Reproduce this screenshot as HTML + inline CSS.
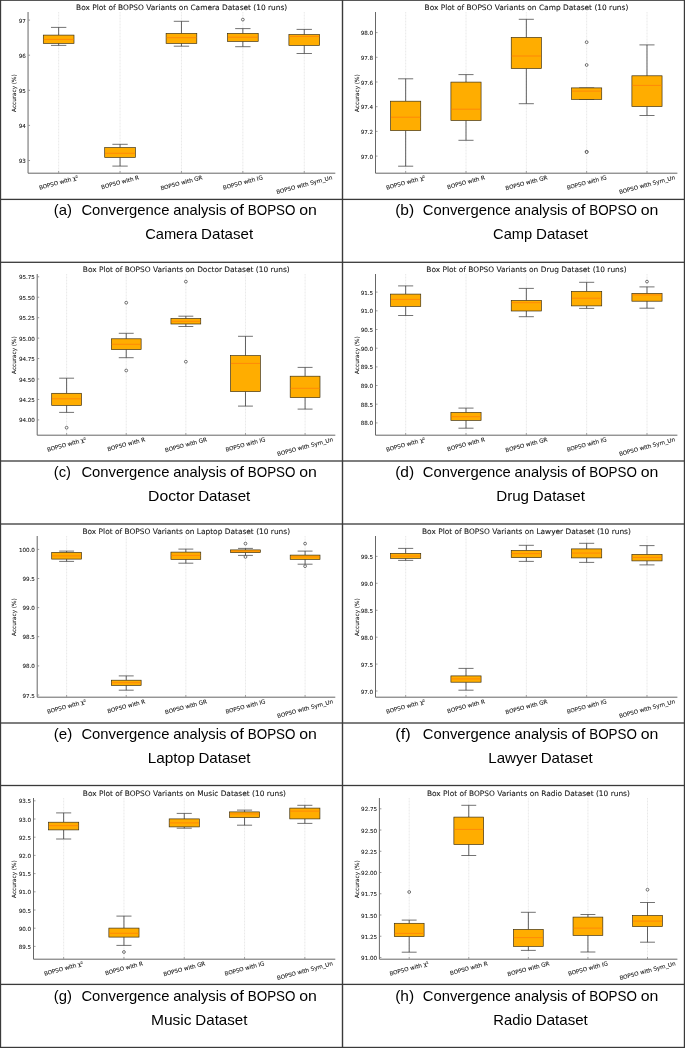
<!DOCTYPE html>
<html><head><meta charset="utf-8"><title>Box Plots of BOPSO Variants</title>
<style>
html,body{margin:0;padding:0;background:#fff}
body{width:685px;height:1048px;overflow:hidden}
svg{display:block}
.d{font-family:"DejaVu Sans","Liberation Sans",sans-serif;fill:#151515;stroke:#151515;stroke-width:.08px}
.c{font-family:"Liberation Sans",sans-serif;fill:#000}
</style></head><body>
<svg width="685" height="1048" viewBox="0 0 685 1048">
<rect width="685" height="1048" fill="#fff"/>
<g>
<line x1="58.65" y1="12" x2="58.65" y2="173.2" stroke="#d2d2d2" stroke-width="0.5" stroke-dasharray="1 0.5"/>
<line x1="120.05" y1="12" x2="120.05" y2="173.2" stroke="#d2d2d2" stroke-width="0.5" stroke-dasharray="1 0.5"/>
<line x1="181.45" y1="12" x2="181.45" y2="173.2" stroke="#d2d2d2" stroke-width="0.5" stroke-dasharray="1 0.5"/>
<line x1="242.85" y1="12" x2="242.85" y2="173.2" stroke="#d2d2d2" stroke-width="0.5" stroke-dasharray="1 0.5"/>
<line x1="304.25" y1="12" x2="304.25" y2="173.2" stroke="#d2d2d2" stroke-width="0.5" stroke-dasharray="1 0.5"/>
<path d="M58.65 35.1V27.4M58.65 43.4V45.4" stroke="#2e2e2e" stroke-width="0.75" fill="none"/>
<path d="M50.98 27.4H66.33M50.98 45.4H66.33" stroke="#444" stroke-width="0.75" fill="none"/>
<rect x="43.3" y="35.1" width="30.7" height="8.3" fill="#ffad00" stroke="#33290f" stroke-width="0.65"/>
<line x1="43.6" y1="39.4" x2="73.7" y2="39.4" stroke="#ff7a0a" stroke-width="0.7"/>
<path d="M120.05 147.6V144.3M120.05 157.4V166.1" stroke="#2e2e2e" stroke-width="0.75" fill="none"/>
<path d="M112.38 144.3H127.72M112.38 166.1H127.72" stroke="#444" stroke-width="0.75" fill="none"/>
<rect x="104.7" y="147.6" width="30.7" height="9.8" fill="#ffad00" stroke="#33290f" stroke-width="0.65"/>
<line x1="105" y1="153.3" x2="135.1" y2="153.3" stroke="#ff7a0a" stroke-width="0.7"/>
<path d="M181.45 33.4V21.3M181.45 43.4V46.2" stroke="#2e2e2e" stroke-width="0.75" fill="none"/>
<path d="M173.77 21.3H189.12M173.77 46.2H189.12" stroke="#444" stroke-width="0.75" fill="none"/>
<rect x="166.1" y="33.4" width="30.7" height="10" fill="#ffad00" stroke="#33290f" stroke-width="0.65"/>
<line x1="166.4" y1="37.7" x2="196.5" y2="37.7" stroke="#ff7a0a" stroke-width="0.7"/>
<path d="M242.85 33.4V28.6M242.85 41.4V46.7" stroke="#2e2e2e" stroke-width="0.75" fill="none"/>
<path d="M235.17 28.6H250.53M235.17 46.7H250.53" stroke="#444" stroke-width="0.75" fill="none"/>
<rect x="227.5" y="33.4" width="30.7" height="8" fill="#ffad00" stroke="#33290f" stroke-width="0.65"/>
<line x1="227.8" y1="37.2" x2="257.9" y2="37.2" stroke="#ff7a0a" stroke-width="0.7"/>
<circle cx="242.85" cy="19.6" r="1.4" fill="#fff" stroke="#2a2a2a" stroke-width="0.65"/>
<path d="M304.25 34.6V29.4M304.25 45.4V53.5" stroke="#2e2e2e" stroke-width="0.75" fill="none"/>
<path d="M296.57 29.4H311.93M296.57 53.5H311.93" stroke="#444" stroke-width="0.75" fill="none"/>
<rect x="288.9" y="34.6" width="30.7" height="10.8" fill="#ffad00" stroke="#33290f" stroke-width="0.65"/>
<line x1="289.2" y1="36.4" x2="319.3" y2="36.4" stroke="#ff7a0a" stroke-width="0.7"/>
<path d="M28.05 12V173.2H335.3" stroke="#666" stroke-width="1.0" fill="none"/>
<line x1="28.65" y1="20.1" x2="30.05" y2="20.1" stroke="#333" stroke-width="0.5"/>
<text x="25.75" y="22.62" font-size="5.6" text-anchor="end" class="d">97</text>
<line x1="28.65" y1="55.2" x2="30.05" y2="55.2" stroke="#333" stroke-width="0.5"/>
<text x="25.75" y="57.72" font-size="5.6" text-anchor="end" class="d">96</text>
<line x1="28.65" y1="90.3" x2="30.05" y2="90.3" stroke="#333" stroke-width="0.5"/>
<text x="25.75" y="92.82" font-size="5.6" text-anchor="end" class="d">95</text>
<line x1="28.65" y1="125.4" x2="30.05" y2="125.4" stroke="#333" stroke-width="0.5"/>
<text x="25.75" y="127.92" font-size="5.6" text-anchor="end" class="d">94</text>
<line x1="28.65" y1="160.5" x2="30.05" y2="160.5" stroke="#333" stroke-width="0.5"/>
<text x="25.75" y="163.02" font-size="5.6" text-anchor="end" class="d">93</text>
<line x1="58.65" y1="172.6" x2="58.65" y2="171.2" stroke="#333" stroke-width="0.5"/>
<line x1="120.05" y1="172.6" x2="120.05" y2="171.2" stroke="#333" stroke-width="0.5"/>
<line x1="181.45" y1="172.6" x2="181.45" y2="171.2" stroke="#333" stroke-width="0.5"/>
<line x1="242.85" y1="172.6" x2="242.85" y2="171.2" stroke="#333" stroke-width="0.5"/>
<line x1="304.25" y1="172.6" x2="304.25" y2="171.2" stroke="#333" stroke-width="0.5"/>
<text x="58.65" y="184.48" font-size="5.6" text-anchor="middle" class="d" transform="rotate(-15 58.65 182.47)">BOPSO with χ²</text>
<text x="120.05" y="184.28" font-size="5.6" text-anchor="middle" class="d" transform="rotate(-15 120.05 182.26)">BOPSO with R</text>
<text x="181.45" y="184.84" font-size="5.6" text-anchor="middle" class="d" transform="rotate(-15 181.45 182.82)">BOPSO with GR</text>
<text x="242.85" y="184.55" font-size="5.6" text-anchor="middle" class="d" transform="rotate(-15 242.85 182.53)">BOPSO with IG</text>
<text x="304.25" y="186.72" font-size="5.6" text-anchor="middle" class="d" transform="rotate(-15 304.25 184.7)">BOPSO with Sym_Un</text>
<text x="14.3" y="95.12" font-size="5.699999999999999" text-anchor="middle" class="d" transform="rotate(-90 14.3 93.1)">Accuracy (%)</text>
<text x="181.68" y="9.6" font-size="7.43" text-anchor="middle" class="d" fill="#222">Box Plot of BOPSO Variants on Camera Dataset (10 runs)</text>
<text x="53.8" y="215.4" font-size="15.0" class="c" textLength="18.2" lengthAdjust="spacingAndGlyphs">(a)</text>
<text y="215.4" font-size="15.0" class="c"><tspan x="81.4" textLength="87.99" lengthAdjust="spacingAndGlyphs">Convergence</tspan> <tspan x="173.18" textLength="53.1" lengthAdjust="spacingAndGlyphs">analysis</tspan> <tspan x="230.07" textLength="13.95" lengthAdjust="spacingAndGlyphs">of</tspan> <tspan x="247.81" textLength="47.67" lengthAdjust="spacingAndGlyphs">BOPSO</tspan> <tspan x="299.27" textLength="17.65" lengthAdjust="spacingAndGlyphs">on</tspan></text>
<text y="238.9" font-size="15.0" class="c"><tspan x="145.13" textLength="52.22" lengthAdjust="spacingAndGlyphs">Camera</tspan> <tspan x="201.14" textLength="52.05" lengthAdjust="spacingAndGlyphs">Dataset</tspan></text>
</g>
<g>
<line x1="405.67" y1="12" x2="405.67" y2="173.2" stroke="#d2d2d2" stroke-width="0.5" stroke-dasharray="1 0.5"/>
<line x1="466" y1="12" x2="466" y2="173.2" stroke="#d2d2d2" stroke-width="0.5" stroke-dasharray="1 0.5"/>
<line x1="526.33" y1="12" x2="526.33" y2="173.2" stroke="#d2d2d2" stroke-width="0.5" stroke-dasharray="1 0.5"/>
<line x1="586.65" y1="12" x2="586.65" y2="173.2" stroke="#d2d2d2" stroke-width="0.5" stroke-dasharray="1 0.5"/>
<line x1="646.99" y1="12" x2="646.99" y2="173.2" stroke="#d2d2d2" stroke-width="0.5" stroke-dasharray="1 0.5"/>
<path d="M405.67 101.2V78.8M405.67 130.6V166.2" stroke="#2e2e2e" stroke-width="0.75" fill="none"/>
<path d="M398.12 78.8H413.21M398.12 166.2H413.21" stroke="#444" stroke-width="0.75" fill="none"/>
<rect x="390.58" y="101.2" width="30.16" height="29.4" fill="#ffad00" stroke="#33290f" stroke-width="0.65"/>
<line x1="390.88" y1="117.2" x2="420.45" y2="117.2" stroke="#ff7a0a" stroke-width="0.7"/>
<path d="M466 82.1V74.6M466 120.5V140.3" stroke="#2e2e2e" stroke-width="0.75" fill="none"/>
<path d="M458.45 74.6H473.54M458.45 140.3H473.54" stroke="#444" stroke-width="0.75" fill="none"/>
<rect x="450.91" y="82.1" width="30.16" height="38.4" fill="#ffad00" stroke="#33290f" stroke-width="0.65"/>
<line x1="451.21" y1="109.2" x2="480.78" y2="109.2" stroke="#ff7a0a" stroke-width="0.7"/>
<path d="M526.33 37.4V19.3M526.33 68.5V103.7" stroke="#2e2e2e" stroke-width="0.75" fill="none"/>
<path d="M518.78 19.3H533.87M518.78 103.7H533.87" stroke="#444" stroke-width="0.75" fill="none"/>
<rect x="511.24" y="37.4" width="30.16" height="31.1" fill="#ffad00" stroke="#33290f" stroke-width="0.65"/>
<line x1="511.54" y1="56" x2="541.11" y2="56" stroke="#ff7a0a" stroke-width="0.7"/>
<path d="M586.65 87.9V87.9M586.65 99.4V99.4" stroke="#2e2e2e" stroke-width="0.75" fill="none"/>
<path d="M579.11 87.9H594.2M579.11 99.4H594.2" stroke="#444" stroke-width="0.75" fill="none"/>
<rect x="571.57" y="87.9" width="30.16" height="11.5" fill="#ffad00" stroke="#33290f" stroke-width="0.65"/>
<line x1="571.87" y1="91.1" x2="601.44" y2="91.1" stroke="#ff7a0a" stroke-width="0.7"/>
<circle cx="586.65" cy="42.2" r="1.4" fill="#fff" stroke="#2a2a2a" stroke-width="0.65"/>
<circle cx="586.65" cy="65" r="1.4" fill="#fff" stroke="#2a2a2a" stroke-width="0.65"/>
<circle cx="586.65" cy="151.7" r="1.4" fill="#fff" stroke="#2a2a2a" stroke-width="0.65"/>
<circle cx="586.65" cy="152.1" r="1.4" fill="#fff" stroke="#2a2a2a" stroke-width="0.65"/>
<path d="M646.99 75.8V44.9M646.99 106.5V115.5" stroke="#2e2e2e" stroke-width="0.75" fill="none"/>
<path d="M639.44 44.9H654.53M639.44 115.5H654.53" stroke="#444" stroke-width="0.75" fill="none"/>
<rect x="631.9" y="75.8" width="30.16" height="30.7" fill="#ffad00" stroke="#33290f" stroke-width="0.65"/>
<line x1="632.2" y1="85.4" x2="661.77" y2="85.4" stroke="#ff7a0a" stroke-width="0.7"/>
<path d="M375.5 12V173.2H677.4" stroke="#666" stroke-width="1.0" fill="none"/>
<line x1="376.1" y1="32.6" x2="377.5" y2="32.6" stroke="#333" stroke-width="0.5"/>
<text x="373.2" y="35.12" font-size="5.6" text-anchor="end" class="d">98.0</text>
<line x1="376.1" y1="57.3" x2="377.5" y2="57.3" stroke="#333" stroke-width="0.5"/>
<text x="373.2" y="59.82" font-size="5.6" text-anchor="end" class="d">97.8</text>
<line x1="376.1" y1="82" x2="377.5" y2="82" stroke="#333" stroke-width="0.5"/>
<text x="373.2" y="84.52" font-size="5.6" text-anchor="end" class="d">97.6</text>
<line x1="376.1" y1="106.7" x2="377.5" y2="106.7" stroke="#333" stroke-width="0.5"/>
<text x="373.2" y="109.22" font-size="5.6" text-anchor="end" class="d">97.4</text>
<line x1="376.1" y1="131.4" x2="377.5" y2="131.4" stroke="#333" stroke-width="0.5"/>
<text x="373.2" y="133.92" font-size="5.6" text-anchor="end" class="d">97.2</text>
<line x1="376.1" y1="156.1" x2="377.5" y2="156.1" stroke="#333" stroke-width="0.5"/>
<text x="373.2" y="158.62" font-size="5.6" text-anchor="end" class="d">97.0</text>
<line x1="405.67" y1="172.6" x2="405.67" y2="171.2" stroke="#333" stroke-width="0.5"/>
<line x1="466" y1="172.6" x2="466" y2="171.2" stroke="#333" stroke-width="0.5"/>
<line x1="526.33" y1="172.6" x2="526.33" y2="171.2" stroke="#333" stroke-width="0.5"/>
<line x1="586.65" y1="172.6" x2="586.65" y2="171.2" stroke="#333" stroke-width="0.5"/>
<line x1="646.99" y1="172.6" x2="646.99" y2="171.2" stroke="#333" stroke-width="0.5"/>
<text x="405.67" y="184.48" font-size="5.6" text-anchor="middle" class="d" transform="rotate(-15 405.67 182.47)">BOPSO with χ²</text>
<text x="466" y="184.28" font-size="5.6" text-anchor="middle" class="d" transform="rotate(-15 466 182.26)">BOPSO with R</text>
<text x="526.33" y="184.84" font-size="5.6" text-anchor="middle" class="d" transform="rotate(-15 526.33 182.82)">BOPSO with GR</text>
<text x="586.65" y="184.55" font-size="5.6" text-anchor="middle" class="d" transform="rotate(-15 586.65 182.53)">BOPSO with IG</text>
<text x="646.99" y="186.72" font-size="5.6" text-anchor="middle" class="d" transform="rotate(-15 646.99 184.7)">BOPSO with Sym_Un</text>
<text x="357.3" y="95.12" font-size="5.699999999999999" text-anchor="middle" class="d" transform="rotate(-90 357.3 93.1)">Accuracy (%)</text>
<text x="526.45" y="9.6" font-size="7.43" text-anchor="middle" class="d" fill="#222">Box Plot of BOPSO Variants on Camp Dataset (10 runs)</text>
<text x="395.2" y="215.4" font-size="15.0" class="c" textLength="18.97" lengthAdjust="spacingAndGlyphs">(b)</text>
<text y="215.4" font-size="15.0" class="c"><tspan x="422.8" textLength="87.99" lengthAdjust="spacingAndGlyphs">Convergence</tspan> <tspan x="514.58" textLength="53.1" lengthAdjust="spacingAndGlyphs">analysis</tspan> <tspan x="571.47" textLength="13.95" lengthAdjust="spacingAndGlyphs">of</tspan> <tspan x="589.21" textLength="47.67" lengthAdjust="spacingAndGlyphs">BOPSO</tspan> <tspan x="640.67" textLength="17.65" lengthAdjust="spacingAndGlyphs">on</tspan></text>
<text y="238.9" font-size="15.0" class="c"><tspan x="493.06" textLength="39.16" lengthAdjust="spacingAndGlyphs">Camp</tspan> <tspan x="536.01" textLength="52.05" lengthAdjust="spacingAndGlyphs">Dataset</tspan></text>
</g>
<g>
<line x1="66.61" y1="274" x2="66.61" y2="435.2" stroke="#d2d2d2" stroke-width="0.5" stroke-dasharray="1 0.5"/>
<line x1="126.23" y1="274" x2="126.23" y2="435.2" stroke="#d2d2d2" stroke-width="0.5" stroke-dasharray="1 0.5"/>
<line x1="185.85" y1="274" x2="185.85" y2="435.2" stroke="#d2d2d2" stroke-width="0.5" stroke-dasharray="1 0.5"/>
<line x1="245.47" y1="274" x2="245.47" y2="435.2" stroke="#d2d2d2" stroke-width="0.5" stroke-dasharray="1 0.5"/>
<line x1="305.09" y1="274" x2="305.09" y2="435.2" stroke="#d2d2d2" stroke-width="0.5" stroke-dasharray="1 0.5"/>
<path d="M66.61 393.3V378.2M66.61 405.4V412.4" stroke="#2e2e2e" stroke-width="0.75" fill="none"/>
<path d="M59.16 378.2H74.06M59.16 412.4H74.06" stroke="#444" stroke-width="0.75" fill="none"/>
<rect x="51.7" y="393.3" width="29.81" height="12.1" fill="#ffad00" stroke="#33290f" stroke-width="0.65"/>
<line x1="52" y1="398.8" x2="81.21" y2="398.8" stroke="#ff7a0a" stroke-width="0.7"/>
<circle cx="66.61" cy="427.7" r="1.4" fill="#fff" stroke="#2a2a2a" stroke-width="0.65"/>
<path d="M126.23 338.8V333.3M126.23 349.6V357.7" stroke="#2e2e2e" stroke-width="0.75" fill="none"/>
<path d="M118.78 333.3H133.68M118.78 357.7H133.68" stroke="#444" stroke-width="0.75" fill="none"/>
<rect x="111.32" y="338.8" width="29.81" height="10.8" fill="#ffad00" stroke="#33290f" stroke-width="0.65"/>
<line x1="111.62" y1="344.3" x2="140.83" y2="344.3" stroke="#ff7a0a" stroke-width="0.7"/>
<circle cx="126.23" cy="302.7" r="1.4" fill="#fff" stroke="#2a2a2a" stroke-width="0.65"/>
<circle cx="126.23" cy="370.5" r="1.4" fill="#fff" stroke="#2a2a2a" stroke-width="0.65"/>
<path d="M185.85 318.5V316.2M185.85 324V326.5" stroke="#2e2e2e" stroke-width="0.75" fill="none"/>
<path d="M178.4 316.2H193.3M178.4 326.5H193.3" stroke="#444" stroke-width="0.75" fill="none"/>
<rect x="170.94" y="318.5" width="29.81" height="5.5" fill="#ffad00" stroke="#33290f" stroke-width="0.65"/>
<line x1="171.24" y1="321.3" x2="200.45" y2="321.3" stroke="#ff7a0a" stroke-width="0.7"/>
<circle cx="185.85" cy="281.6" r="1.4" fill="#fff" stroke="#2a2a2a" stroke-width="0.65"/>
<circle cx="185.85" cy="361.7" r="1.4" fill="#fff" stroke="#2a2a2a" stroke-width="0.65"/>
<path d="M245.47 355.6V336.3M245.47 391.6V406.1" stroke="#2e2e2e" stroke-width="0.75" fill="none"/>
<path d="M238.02 336.3H252.92M238.02 406.1H252.92" stroke="#444" stroke-width="0.75" fill="none"/>
<rect x="230.56" y="355.6" width="29.81" height="36" fill="#ffad00" stroke="#33290f" stroke-width="0.65"/>
<line x1="230.86" y1="363.4" x2="260.07" y2="363.4" stroke="#ff7a0a" stroke-width="0.7"/>
<path d="M305.09 376.2V367.4M305.09 397.6V409.1" stroke="#2e2e2e" stroke-width="0.75" fill="none"/>
<path d="M297.64 367.4H312.54M297.64 409.1H312.54" stroke="#444" stroke-width="0.75" fill="none"/>
<rect x="290.19" y="376.2" width="29.81" height="21.4" fill="#ffad00" stroke="#33290f" stroke-width="0.65"/>
<line x1="290.49" y1="388.3" x2="319.69" y2="388.3" stroke="#ff7a0a" stroke-width="0.7"/>
<path d="M37.2 274V435.2H335.3" stroke="#666" stroke-width="1.0" fill="none"/>
<line x1="37.8" y1="276.8" x2="39.2" y2="276.8" stroke="#333" stroke-width="0.5"/>
<text x="34.9" y="279.32" font-size="5.6" text-anchor="end" class="d">95.75</text>
<line x1="37.8" y1="297.24" x2="39.2" y2="297.24" stroke="#333" stroke-width="0.5"/>
<text x="34.9" y="299.76" font-size="5.6" text-anchor="end" class="d">95.50</text>
<line x1="37.8" y1="317.68" x2="39.2" y2="317.68" stroke="#333" stroke-width="0.5"/>
<text x="34.9" y="320.2" font-size="5.6" text-anchor="end" class="d">95.25</text>
<line x1="37.8" y1="338.12" x2="39.2" y2="338.12" stroke="#333" stroke-width="0.5"/>
<text x="34.9" y="340.64" font-size="5.6" text-anchor="end" class="d">95.00</text>
<line x1="37.8" y1="358.56" x2="39.2" y2="358.56" stroke="#333" stroke-width="0.5"/>
<text x="34.9" y="361.08" font-size="5.6" text-anchor="end" class="d">94.75</text>
<line x1="37.8" y1="379" x2="39.2" y2="379" stroke="#333" stroke-width="0.5"/>
<text x="34.9" y="381.52" font-size="5.6" text-anchor="end" class="d">94.50</text>
<line x1="37.8" y1="399.44" x2="39.2" y2="399.44" stroke="#333" stroke-width="0.5"/>
<text x="34.9" y="401.96" font-size="5.6" text-anchor="end" class="d">94.25</text>
<line x1="37.8" y1="419.88" x2="39.2" y2="419.88" stroke="#333" stroke-width="0.5"/>
<text x="34.9" y="422.4" font-size="5.6" text-anchor="end" class="d">94.00</text>
<line x1="66.61" y1="434.6" x2="66.61" y2="433.2" stroke="#333" stroke-width="0.5"/>
<line x1="126.23" y1="434.6" x2="126.23" y2="433.2" stroke="#333" stroke-width="0.5"/>
<line x1="185.85" y1="434.6" x2="185.85" y2="433.2" stroke="#333" stroke-width="0.5"/>
<line x1="245.47" y1="434.6" x2="245.47" y2="433.2" stroke="#333" stroke-width="0.5"/>
<line x1="305.09" y1="434.6" x2="305.09" y2="433.2" stroke="#333" stroke-width="0.5"/>
<text x="66.61" y="446.48" font-size="5.6" text-anchor="middle" class="d" transform="rotate(-15 66.61 444.47)">BOPSO with χ²</text>
<text x="126.23" y="446.28" font-size="5.6" text-anchor="middle" class="d" transform="rotate(-15 126.23 444.26)">BOPSO with R</text>
<text x="185.85" y="446.84" font-size="5.6" text-anchor="middle" class="d" transform="rotate(-15 185.85 444.82)">BOPSO with GR</text>
<text x="245.47" y="446.55" font-size="5.6" text-anchor="middle" class="d" transform="rotate(-15 245.47 444.53)">BOPSO with IG</text>
<text x="305.09" y="448.72" font-size="5.6" text-anchor="middle" class="d" transform="rotate(-15 305.09 446.7)">BOPSO with Sym_Un</text>
<text x="14.3" y="357.12" font-size="5.699999999999999" text-anchor="middle" class="d" transform="rotate(-90 14.3 355.1)">Accuracy (%)</text>
<text x="186.25" y="271.6" font-size="7.43" text-anchor="middle" class="d" fill="#222">Box Plot of BOPSO Variants on Doctor Dataset (10 runs)</text>
<text x="53.8" y="477.4" font-size="15.0" class="c" textLength="17.25" lengthAdjust="spacingAndGlyphs">(c)</text>
<text y="477.4" font-size="15.0" class="c"><tspan x="81.4" textLength="87.99" lengthAdjust="spacingAndGlyphs">Convergence</tspan> <tspan x="173.18" textLength="53.1" lengthAdjust="spacingAndGlyphs">analysis</tspan> <tspan x="230.07" textLength="13.95" lengthAdjust="spacingAndGlyphs">of</tspan> <tspan x="247.81" textLength="47.67" lengthAdjust="spacingAndGlyphs">BOPSO</tspan> <tspan x="299.27" textLength="17.65" lengthAdjust="spacingAndGlyphs">on</tspan></text>
<text y="500.9" font-size="15.0" class="c"><tspan x="148.06" textLength="46.37" lengthAdjust="spacingAndGlyphs">Doctor</tspan> <tspan x="198.21" textLength="52.05" lengthAdjust="spacingAndGlyphs">Dataset</tspan></text>
</g>
<g>
<line x1="405.67" y1="274" x2="405.67" y2="435.2" stroke="#d2d2d2" stroke-width="0.5" stroke-dasharray="1 0.5"/>
<line x1="466" y1="274" x2="466" y2="435.2" stroke="#d2d2d2" stroke-width="0.5" stroke-dasharray="1 0.5"/>
<line x1="526.33" y1="274" x2="526.33" y2="435.2" stroke="#d2d2d2" stroke-width="0.5" stroke-dasharray="1 0.5"/>
<line x1="586.65" y1="274" x2="586.65" y2="435.2" stroke="#d2d2d2" stroke-width="0.5" stroke-dasharray="1 0.5"/>
<line x1="646.99" y1="274" x2="646.99" y2="435.2" stroke="#d2d2d2" stroke-width="0.5" stroke-dasharray="1 0.5"/>
<path d="M405.67 294.1V285.9M405.67 306.4V315.5" stroke="#2e2e2e" stroke-width="0.75" fill="none"/>
<path d="M398.12 285.9H413.21M398.12 315.5H413.21" stroke="#444" stroke-width="0.75" fill="none"/>
<rect x="390.58" y="294.1" width="30.16" height="12.3" fill="#ffad00" stroke="#33290f" stroke-width="0.65"/>
<line x1="390.88" y1="299.4" x2="420.45" y2="299.4" stroke="#ff7a0a" stroke-width="0.7"/>
<path d="M466 412.4V408.1M466 420.4V428.2" stroke="#2e2e2e" stroke-width="0.75" fill="none"/>
<path d="M458.45 408.1H473.54M458.45 428.2H473.54" stroke="#444" stroke-width="0.75" fill="none"/>
<rect x="450.91" y="412.4" width="30.16" height="8" fill="#ffad00" stroke="#33290f" stroke-width="0.65"/>
<line x1="451.21" y1="416.7" x2="480.78" y2="416.7" stroke="#ff7a0a" stroke-width="0.7"/>
<path d="M526.33 300.4V288.4M526.33 311V316.7" stroke="#2e2e2e" stroke-width="0.75" fill="none"/>
<path d="M518.78 288.4H533.87M518.78 316.7H533.87" stroke="#444" stroke-width="0.75" fill="none"/>
<rect x="511.24" y="300.4" width="30.16" height="10.6" fill="#ffad00" stroke="#33290f" stroke-width="0.65"/>
<line x1="511.54" y1="302.7" x2="541.11" y2="302.7" stroke="#ff7a0a" stroke-width="0.7"/>
<path d="M586.65 291.4V282.3M586.65 305.9V308.4" stroke="#2e2e2e" stroke-width="0.75" fill="none"/>
<path d="M579.11 282.3H594.2M579.11 308.4H594.2" stroke="#444" stroke-width="0.75" fill="none"/>
<rect x="571.57" y="291.4" width="30.16" height="14.5" fill="#ffad00" stroke="#33290f" stroke-width="0.65"/>
<line x1="571.87" y1="298.2" x2="601.44" y2="298.2" stroke="#ff7a0a" stroke-width="0.7"/>
<path d="M646.99 293.4V286.9M646.99 301.2V308.2" stroke="#2e2e2e" stroke-width="0.75" fill="none"/>
<path d="M639.44 286.9H654.53M639.44 308.2H654.53" stroke="#444" stroke-width="0.75" fill="none"/>
<rect x="631.9" y="293.4" width="30.16" height="7.8" fill="#ffad00" stroke="#33290f" stroke-width="0.65"/>
<line x1="632.2" y1="294.9" x2="661.77" y2="294.9" stroke="#ff7a0a" stroke-width="0.7"/>
<circle cx="646.99" cy="281.6" r="1.4" fill="#fff" stroke="#2a2a2a" stroke-width="0.65"/>
<path d="M375.5 274V435.2H677.4" stroke="#666" stroke-width="1.0" fill="none"/>
<line x1="376.1" y1="292.1" x2="377.5" y2="292.1" stroke="#333" stroke-width="0.5"/>
<text x="373.2" y="294.62" font-size="5.6" text-anchor="end" class="d">91.5</text>
<line x1="376.1" y1="310.8" x2="377.5" y2="310.8" stroke="#333" stroke-width="0.5"/>
<text x="373.2" y="313.32" font-size="5.6" text-anchor="end" class="d">91.0</text>
<line x1="376.1" y1="329.5" x2="377.5" y2="329.5" stroke="#333" stroke-width="0.5"/>
<text x="373.2" y="332.02" font-size="5.6" text-anchor="end" class="d">90.5</text>
<line x1="376.1" y1="348.2" x2="377.5" y2="348.2" stroke="#333" stroke-width="0.5"/>
<text x="373.2" y="350.72" font-size="5.6" text-anchor="end" class="d">90.0</text>
<line x1="376.1" y1="366.9" x2="377.5" y2="366.9" stroke="#333" stroke-width="0.5"/>
<text x="373.2" y="369.42" font-size="5.6" text-anchor="end" class="d">89.5</text>
<line x1="376.1" y1="385.5" x2="377.5" y2="385.5" stroke="#333" stroke-width="0.5"/>
<text x="373.2" y="388.02" font-size="5.6" text-anchor="end" class="d">89.0</text>
<line x1="376.1" y1="404.2" x2="377.5" y2="404.2" stroke="#333" stroke-width="0.5"/>
<text x="373.2" y="406.72" font-size="5.6" text-anchor="end" class="d">88.5</text>
<line x1="376.1" y1="422.9" x2="377.5" y2="422.9" stroke="#333" stroke-width="0.5"/>
<text x="373.2" y="425.42" font-size="5.6" text-anchor="end" class="d">88.0</text>
<line x1="405.67" y1="434.6" x2="405.67" y2="433.2" stroke="#333" stroke-width="0.5"/>
<line x1="466" y1="434.6" x2="466" y2="433.2" stroke="#333" stroke-width="0.5"/>
<line x1="526.33" y1="434.6" x2="526.33" y2="433.2" stroke="#333" stroke-width="0.5"/>
<line x1="586.65" y1="434.6" x2="586.65" y2="433.2" stroke="#333" stroke-width="0.5"/>
<line x1="646.99" y1="434.6" x2="646.99" y2="433.2" stroke="#333" stroke-width="0.5"/>
<text x="405.67" y="446.48" font-size="5.6" text-anchor="middle" class="d" transform="rotate(-15 405.67 444.47)">BOPSO with χ²</text>
<text x="466" y="446.28" font-size="5.6" text-anchor="middle" class="d" transform="rotate(-15 466 444.26)">BOPSO with R</text>
<text x="526.33" y="446.84" font-size="5.6" text-anchor="middle" class="d" transform="rotate(-15 526.33 444.82)">BOPSO with GR</text>
<text x="586.65" y="446.55" font-size="5.6" text-anchor="middle" class="d" transform="rotate(-15 586.65 444.53)">BOPSO with IG</text>
<text x="646.99" y="448.72" font-size="5.6" text-anchor="middle" class="d" transform="rotate(-15 646.99 446.7)">BOPSO with Sym_Un</text>
<text x="357.3" y="357.12" font-size="5.699999999999999" text-anchor="middle" class="d" transform="rotate(-90 357.3 355.1)">Accuracy (%)</text>
<text x="526.45" y="271.6" font-size="7.43" text-anchor="middle" class="d" fill="#222">Box Plot of BOPSO Variants on Drug Dataset (10 runs)</text>
<text x="395.2" y="477.4" font-size="15.0" class="c" textLength="18.97" lengthAdjust="spacingAndGlyphs">(d)</text>
<text y="477.4" font-size="15.0" class="c"><tspan x="422.8" textLength="87.99" lengthAdjust="spacingAndGlyphs">Convergence</tspan> <tspan x="514.58" textLength="53.1" lengthAdjust="spacingAndGlyphs">analysis</tspan> <tspan x="571.47" textLength="13.95" lengthAdjust="spacingAndGlyphs">of</tspan> <tspan x="589.21" textLength="47.67" lengthAdjust="spacingAndGlyphs">BOPSO</tspan> <tspan x="640.67" textLength="17.65" lengthAdjust="spacingAndGlyphs">on</tspan></text>
<text y="500.9" font-size="15.0" class="c"><tspan x="496.21" textLength="32.85" lengthAdjust="spacingAndGlyphs">Drug</tspan> <tspan x="532.86" textLength="52.05" lengthAdjust="spacingAndGlyphs">Dataset</tspan></text>
</g>
<g>
<line x1="66.61" y1="536" x2="66.61" y2="697.2" stroke="#d2d2d2" stroke-width="0.5" stroke-dasharray="1 0.5"/>
<line x1="126.23" y1="536" x2="126.23" y2="697.2" stroke="#d2d2d2" stroke-width="0.5" stroke-dasharray="1 0.5"/>
<line x1="185.85" y1="536" x2="185.85" y2="697.2" stroke="#d2d2d2" stroke-width="0.5" stroke-dasharray="1 0.5"/>
<line x1="245.47" y1="536" x2="245.47" y2="697.2" stroke="#d2d2d2" stroke-width="0.5" stroke-dasharray="1 0.5"/>
<line x1="305.09" y1="536" x2="305.09" y2="697.2" stroke="#d2d2d2" stroke-width="0.5" stroke-dasharray="1 0.5"/>
<path d="M66.61 552.4V551.1M66.61 559.1V561.4" stroke="#2e2e2e" stroke-width="0.75" fill="none"/>
<path d="M59.16 551.1H74.06M59.16 561.4H74.06" stroke="#444" stroke-width="0.75" fill="none"/>
<rect x="51.7" y="552.4" width="29.81" height="6.7" fill="#ffad00" stroke="#33290f" stroke-width="0.65"/>
<line x1="52" y1="555.9" x2="81.21" y2="555.9" stroke="#ff7a0a" stroke-width="0.7"/>
<path d="M126.23 680.2V675.9M126.23 685.4V690.2" stroke="#2e2e2e" stroke-width="0.75" fill="none"/>
<path d="M118.78 675.9H133.68M118.78 690.2H133.68" stroke="#444" stroke-width="0.75" fill="none"/>
<rect x="111.32" y="680.2" width="29.81" height="5.2" fill="#ffad00" stroke="#33290f" stroke-width="0.65"/>
<line x1="111.62" y1="682.7" x2="140.83" y2="682.7" stroke="#ff7a0a" stroke-width="0.7"/>
<path d="M185.85 552.1V549.1M185.85 559.4V563.2" stroke="#2e2e2e" stroke-width="0.75" fill="none"/>
<path d="M178.4 549.1H193.3M178.4 563.2H193.3" stroke="#444" stroke-width="0.75" fill="none"/>
<rect x="170.94" y="552.1" width="29.81" height="7.3" fill="#ffad00" stroke="#33290f" stroke-width="0.65"/>
<line x1="171.24" y1="555.4" x2="200.45" y2="555.4" stroke="#ff7a0a" stroke-width="0.7"/>
<path d="M245.47 549.9V548.4M245.47 552.6V555.4" stroke="#2e2e2e" stroke-width="0.75" fill="none"/>
<path d="M238.02 548.4H252.92M238.02 555.4H252.92" stroke="#444" stroke-width="0.75" fill="none"/>
<rect x="230.56" y="549.9" width="29.81" height="2.7" fill="#ffad00" stroke="#33290f" stroke-width="0.65"/>
<line x1="230.86" y1="551.1" x2="260.07" y2="551.1" stroke="#ff7a0a" stroke-width="0.7"/>
<circle cx="245.47" cy="543.6" r="1.4" fill="#fff" stroke="#2a2a2a" stroke-width="0.65"/>
<circle cx="245.47" cy="556.9" r="1.4" fill="#fff" stroke="#2a2a2a" stroke-width="0.65"/>
<path d="M305.09 555.1V551.1M305.09 559.4V564.2" stroke="#2e2e2e" stroke-width="0.75" fill="none"/>
<path d="M297.64 551.1H312.54M297.64 564.2H312.54" stroke="#444" stroke-width="0.75" fill="none"/>
<rect x="290.19" y="555.1" width="29.81" height="4.3" fill="#ffad00" stroke="#33290f" stroke-width="0.65"/>
<line x1="290.49" y1="556.9" x2="319.69" y2="556.9" stroke="#ff7a0a" stroke-width="0.7"/>
<circle cx="305.09" cy="543.6" r="1.4" fill="#fff" stroke="#2a2a2a" stroke-width="0.65"/>
<circle cx="305.09" cy="566.2" r="1.4" fill="#fff" stroke="#2a2a2a" stroke-width="0.65"/>
<path d="M37.2 536V697.2H335.3" stroke="#666" stroke-width="1.0" fill="none"/>
<line x1="37.8" y1="549.4" x2="39.2" y2="549.4" stroke="#333" stroke-width="0.5"/>
<text x="34.9" y="551.92" font-size="5.6" text-anchor="end" class="d">100.0</text>
<line x1="37.8" y1="578.5" x2="39.2" y2="578.5" stroke="#333" stroke-width="0.5"/>
<text x="34.9" y="581.02" font-size="5.6" text-anchor="end" class="d">99.5</text>
<line x1="37.8" y1="607.6" x2="39.2" y2="607.6" stroke="#333" stroke-width="0.5"/>
<text x="34.9" y="610.12" font-size="5.6" text-anchor="end" class="d">99.0</text>
<line x1="37.8" y1="636.7" x2="39.2" y2="636.7" stroke="#333" stroke-width="0.5"/>
<text x="34.9" y="639.22" font-size="5.6" text-anchor="end" class="d">98.5</text>
<line x1="37.8" y1="665.9" x2="39.2" y2="665.9" stroke="#333" stroke-width="0.5"/>
<text x="34.9" y="668.42" font-size="5.6" text-anchor="end" class="d">98.0</text>
<line x1="37.8" y1="695" x2="39.2" y2="695" stroke="#333" stroke-width="0.5"/>
<text x="34.9" y="697.52" font-size="5.6" text-anchor="end" class="d">97.5</text>
<line x1="66.61" y1="696.6" x2="66.61" y2="695.2" stroke="#333" stroke-width="0.5"/>
<line x1="126.23" y1="696.6" x2="126.23" y2="695.2" stroke="#333" stroke-width="0.5"/>
<line x1="185.85" y1="696.6" x2="185.85" y2="695.2" stroke="#333" stroke-width="0.5"/>
<line x1="245.47" y1="696.6" x2="245.47" y2="695.2" stroke="#333" stroke-width="0.5"/>
<line x1="305.09" y1="696.6" x2="305.09" y2="695.2" stroke="#333" stroke-width="0.5"/>
<text x="66.61" y="708.48" font-size="5.6" text-anchor="middle" class="d" transform="rotate(-15 66.61 706.47)">BOPSO with χ²</text>
<text x="126.23" y="708.28" font-size="5.6" text-anchor="middle" class="d" transform="rotate(-15 126.23 706.26)">BOPSO with R</text>
<text x="185.85" y="708.84" font-size="5.6" text-anchor="middle" class="d" transform="rotate(-15 185.85 706.82)">BOPSO with GR</text>
<text x="245.47" y="708.55" font-size="5.6" text-anchor="middle" class="d" transform="rotate(-15 245.47 706.53)">BOPSO with IG</text>
<text x="305.09" y="710.72" font-size="5.6" text-anchor="middle" class="d" transform="rotate(-15 305.09 708.7)">BOPSO with Sym_Un</text>
<text x="14.3" y="619.12" font-size="5.699999999999999" text-anchor="middle" class="d" transform="rotate(-90 14.3 617.1)">Accuracy (%)</text>
<text x="186.25" y="533.6" font-size="7.43" text-anchor="middle" class="d" fill="#222">Box Plot of BOPSO Variants on Laptop Dataset (10 runs)</text>
<text x="53.8" y="739.4" font-size="15.0" class="c" textLength="18.5" lengthAdjust="spacingAndGlyphs">(e)</text>
<text y="739.4" font-size="15.0" class="c"><tspan x="81.4" textLength="87.99" lengthAdjust="spacingAndGlyphs">Convergence</tspan> <tspan x="173.18" textLength="53.1" lengthAdjust="spacingAndGlyphs">analysis</tspan> <tspan x="230.07" textLength="13.95" lengthAdjust="spacingAndGlyphs">of</tspan> <tspan x="247.81" textLength="47.67" lengthAdjust="spacingAndGlyphs">BOPSO</tspan> <tspan x="299.27" textLength="17.65" lengthAdjust="spacingAndGlyphs">on</tspan></text>
<text y="762.9" font-size="15.0" class="c"><tspan x="147.79" textLength="46.91" lengthAdjust="spacingAndGlyphs">Laptop</tspan> <tspan x="198.48" textLength="52.05" lengthAdjust="spacingAndGlyphs">Dataset</tspan></text>
</g>
<g>
<line x1="405.67" y1="536" x2="405.67" y2="697.2" stroke="#d2d2d2" stroke-width="0.5" stroke-dasharray="1 0.5"/>
<line x1="466" y1="536" x2="466" y2="697.2" stroke="#d2d2d2" stroke-width="0.5" stroke-dasharray="1 0.5"/>
<line x1="526.33" y1="536" x2="526.33" y2="697.2" stroke="#d2d2d2" stroke-width="0.5" stroke-dasharray="1 0.5"/>
<line x1="586.65" y1="536" x2="586.65" y2="697.2" stroke="#d2d2d2" stroke-width="0.5" stroke-dasharray="1 0.5"/>
<line x1="646.99" y1="536" x2="646.99" y2="697.2" stroke="#d2d2d2" stroke-width="0.5" stroke-dasharray="1 0.5"/>
<path d="M405.67 553.4V548.4M405.67 558.4V560.4" stroke="#2e2e2e" stroke-width="0.75" fill="none"/>
<path d="M398.12 548.4H413.21M398.12 560.4H413.21" stroke="#444" stroke-width="0.75" fill="none"/>
<rect x="390.58" y="553.4" width="30.16" height="5" fill="#ffad00" stroke="#33290f" stroke-width="0.65"/>
<line x1="390.88" y1="556.1" x2="420.45" y2="556.1" stroke="#ff7a0a" stroke-width="0.7"/>
<path d="M466 675.9V668.4M466 682.2V690.2" stroke="#2e2e2e" stroke-width="0.75" fill="none"/>
<path d="M458.45 668.4H473.54M458.45 690.2H473.54" stroke="#444" stroke-width="0.75" fill="none"/>
<rect x="450.91" y="675.9" width="30.16" height="6.3" fill="#ffad00" stroke="#33290f" stroke-width="0.65"/>
<line x1="451.21" y1="678.9" x2="480.78" y2="678.9" stroke="#ff7a0a" stroke-width="0.7"/>
<path d="M526.33 550.4V545.3M526.33 557.6V561.4" stroke="#2e2e2e" stroke-width="0.75" fill="none"/>
<path d="M518.78 545.3H533.87M518.78 561.4H533.87" stroke="#444" stroke-width="0.75" fill="none"/>
<rect x="511.24" y="550.4" width="30.16" height="7.2" fill="#ffad00" stroke="#33290f" stroke-width="0.65"/>
<line x1="511.54" y1="553.6" x2="541.11" y2="553.6" stroke="#ff7a0a" stroke-width="0.7"/>
<path d="M586.65 548.9V543.3M586.65 557.9V562.4" stroke="#2e2e2e" stroke-width="0.75" fill="none"/>
<path d="M579.11 543.3H594.2M579.11 562.4H594.2" stroke="#444" stroke-width="0.75" fill="none"/>
<rect x="571.57" y="548.9" width="30.16" height="9" fill="#ffad00" stroke="#33290f" stroke-width="0.65"/>
<line x1="571.87" y1="553.1" x2="601.44" y2="553.1" stroke="#ff7a0a" stroke-width="0.7"/>
<path d="M646.99 554.4V545.6M646.99 560.9V564.9" stroke="#2e2e2e" stroke-width="0.75" fill="none"/>
<path d="M639.44 545.6H654.53M639.44 564.9H654.53" stroke="#444" stroke-width="0.75" fill="none"/>
<rect x="631.9" y="554.4" width="30.16" height="6.5" fill="#ffad00" stroke="#33290f" stroke-width="0.65"/>
<line x1="632.2" y1="557.4" x2="661.77" y2="557.4" stroke="#ff7a0a" stroke-width="0.7"/>
<path d="M375.5 536V697.2H677.4" stroke="#666" stroke-width="1.0" fill="none"/>
<line x1="376.1" y1="556.4" x2="377.5" y2="556.4" stroke="#333" stroke-width="0.5"/>
<text x="373.2" y="558.92" font-size="5.6" text-anchor="end" class="d">99.5</text>
<line x1="376.1" y1="583.3" x2="377.5" y2="583.3" stroke="#333" stroke-width="0.5"/>
<text x="373.2" y="585.82" font-size="5.6" text-anchor="end" class="d">99.0</text>
<line x1="376.1" y1="610.3" x2="377.5" y2="610.3" stroke="#333" stroke-width="0.5"/>
<text x="373.2" y="612.82" font-size="5.6" text-anchor="end" class="d">98.5</text>
<line x1="376.1" y1="637.2" x2="377.5" y2="637.2" stroke="#333" stroke-width="0.5"/>
<text x="373.2" y="639.72" font-size="5.6" text-anchor="end" class="d">98.0</text>
<line x1="376.1" y1="664.1" x2="377.5" y2="664.1" stroke="#333" stroke-width="0.5"/>
<text x="373.2" y="666.62" font-size="5.6" text-anchor="end" class="d">97.5</text>
<line x1="376.1" y1="691" x2="377.5" y2="691" stroke="#333" stroke-width="0.5"/>
<text x="373.2" y="693.52" font-size="5.6" text-anchor="end" class="d">97.0</text>
<line x1="405.67" y1="696.6" x2="405.67" y2="695.2" stroke="#333" stroke-width="0.5"/>
<line x1="466" y1="696.6" x2="466" y2="695.2" stroke="#333" stroke-width="0.5"/>
<line x1="526.33" y1="696.6" x2="526.33" y2="695.2" stroke="#333" stroke-width="0.5"/>
<line x1="586.65" y1="696.6" x2="586.65" y2="695.2" stroke="#333" stroke-width="0.5"/>
<line x1="646.99" y1="696.6" x2="646.99" y2="695.2" stroke="#333" stroke-width="0.5"/>
<text x="405.67" y="708.48" font-size="5.6" text-anchor="middle" class="d" transform="rotate(-15 405.67 706.47)">BOPSO with χ²</text>
<text x="466" y="708.28" font-size="5.6" text-anchor="middle" class="d" transform="rotate(-15 466 706.26)">BOPSO with R</text>
<text x="526.33" y="708.84" font-size="5.6" text-anchor="middle" class="d" transform="rotate(-15 526.33 706.82)">BOPSO with GR</text>
<text x="586.65" y="708.55" font-size="5.6" text-anchor="middle" class="d" transform="rotate(-15 586.65 706.53)">BOPSO with IG</text>
<text x="646.99" y="710.72" font-size="5.6" text-anchor="middle" class="d" transform="rotate(-15 646.99 708.7)">BOPSO with Sym_Un</text>
<text x="357.3" y="619.12" font-size="5.699999999999999" text-anchor="middle" class="d" transform="rotate(-90 357.3 617.1)">Accuracy (%)</text>
<text x="526.45" y="533.6" font-size="7.43" text-anchor="middle" class="d" fill="#222">Box Plot of BOPSO Variants on Lawyer Dataset (10 runs)</text>
<text x="395.2" y="739.4" font-size="15.0" class="c" textLength="15.53" lengthAdjust="spacingAndGlyphs">(f)</text>
<text y="739.4" font-size="15.0" class="c"><tspan x="422.8" textLength="87.99" lengthAdjust="spacingAndGlyphs">Convergence</tspan> <tspan x="514.58" textLength="53.1" lengthAdjust="spacingAndGlyphs">analysis</tspan> <tspan x="571.47" textLength="13.95" lengthAdjust="spacingAndGlyphs">of</tspan> <tspan x="589.21" textLength="47.67" lengthAdjust="spacingAndGlyphs">BOPSO</tspan> <tspan x="640.67" textLength="17.65" lengthAdjust="spacingAndGlyphs">on</tspan></text>
<text y="762.9" font-size="15.0" class="c"><tspan x="488.34" textLength="48.6" lengthAdjust="spacingAndGlyphs">Lawyer</tspan> <tspan x="540.73" textLength="52.05" lengthAdjust="spacingAndGlyphs">Dataset</tspan></text>
</g>
<g>
<line x1="63.65" y1="798" x2="63.65" y2="959.2" stroke="#d2d2d2" stroke-width="0.5" stroke-dasharray="1 0.5"/>
<line x1="123.95" y1="798" x2="123.95" y2="959.2" stroke="#d2d2d2" stroke-width="0.5" stroke-dasharray="1 0.5"/>
<line x1="184.25" y1="798" x2="184.25" y2="959.2" stroke="#d2d2d2" stroke-width="0.5" stroke-dasharray="1 0.5"/>
<line x1="244.55" y1="798" x2="244.55" y2="959.2" stroke="#d2d2d2" stroke-width="0.5" stroke-dasharray="1 0.5"/>
<line x1="304.85" y1="798" x2="304.85" y2="959.2" stroke="#d2d2d2" stroke-width="0.5" stroke-dasharray="1 0.5"/>
<path d="M63.65 822.2V812.9M63.65 829.9V839" stroke="#2e2e2e" stroke-width="0.75" fill="none"/>
<path d="M56.11 812.9H71.19M56.11 839H71.19" stroke="#444" stroke-width="0.75" fill="none"/>
<rect x="48.58" y="822.2" width="30.15" height="7.7" fill="#ffad00" stroke="#33290f" stroke-width="0.65"/>
<line x1="48.88" y1="825.7" x2="78.42" y2="825.7" stroke="#ff7a0a" stroke-width="0.7"/>
<path d="M123.95 928.1V916.1M123.95 937.1V945.4" stroke="#2e2e2e" stroke-width="0.75" fill="none"/>
<path d="M116.41 916.1H131.49M116.41 945.4H131.49" stroke="#444" stroke-width="0.75" fill="none"/>
<rect x="108.87" y="928.1" width="30.15" height="9" fill="#ffad00" stroke="#33290f" stroke-width="0.65"/>
<line x1="109.17" y1="933.3" x2="138.72" y2="933.3" stroke="#ff7a0a" stroke-width="0.7"/>
<circle cx="123.95" cy="952" r="1.4" fill="#fff" stroke="#2a2a2a" stroke-width="0.65"/>
<path d="M184.25 818.9V813.4M184.25 826.9V828.2" stroke="#2e2e2e" stroke-width="0.75" fill="none"/>
<path d="M176.71 813.4H191.79M176.71 828.2H191.79" stroke="#444" stroke-width="0.75" fill="none"/>
<rect x="169.18" y="818.9" width="30.15" height="8" fill="#ffad00" stroke="#33290f" stroke-width="0.65"/>
<line x1="169.48" y1="822.9" x2="199.02" y2="822.9" stroke="#ff7a0a" stroke-width="0.7"/>
<path d="M244.55 811.9V810.1M244.55 817.6V825.2" stroke="#2e2e2e" stroke-width="0.75" fill="none"/>
<path d="M237.01 810.1H252.09M237.01 825.2H252.09" stroke="#444" stroke-width="0.75" fill="none"/>
<rect x="229.47" y="811.9" width="30.15" height="5.7" fill="#ffad00" stroke="#33290f" stroke-width="0.65"/>
<line x1="229.78" y1="813.9" x2="259.32" y2="813.9" stroke="#ff7a0a" stroke-width="0.7"/>
<path d="M304.85 808.1V805.3M304.85 818.9V823.4" stroke="#2e2e2e" stroke-width="0.75" fill="none"/>
<path d="M297.31 805.3H312.39M297.31 823.4H312.39" stroke="#444" stroke-width="0.75" fill="none"/>
<rect x="289.77" y="808.1" width="30.15" height="10.8" fill="#ffad00" stroke="#33290f" stroke-width="0.65"/>
<line x1="290.07" y1="811.1" x2="319.62" y2="811.1" stroke="#ff7a0a" stroke-width="0.7"/>
<path d="M33.5 798V959.2H335.3" stroke="#666" stroke-width="1.0" fill="none"/>
<line x1="34.1" y1="800.8" x2="35.5" y2="800.8" stroke="#333" stroke-width="0.5"/>
<text x="31.2" y="803.32" font-size="5.6" text-anchor="end" class="d">93.5</text>
<line x1="34.1" y1="819" x2="35.5" y2="819" stroke="#333" stroke-width="0.5"/>
<text x="31.2" y="821.52" font-size="5.6" text-anchor="end" class="d">93.0</text>
<line x1="34.1" y1="837.2" x2="35.5" y2="837.2" stroke="#333" stroke-width="0.5"/>
<text x="31.2" y="839.72" font-size="5.6" text-anchor="end" class="d">92.5</text>
<line x1="34.1" y1="855.4" x2="35.5" y2="855.4" stroke="#333" stroke-width="0.5"/>
<text x="31.2" y="857.92" font-size="5.6" text-anchor="end" class="d">92.0</text>
<line x1="34.1" y1="873.6" x2="35.5" y2="873.6" stroke="#333" stroke-width="0.5"/>
<text x="31.2" y="876.12" font-size="5.6" text-anchor="end" class="d">91.5</text>
<line x1="34.1" y1="891.8" x2="35.5" y2="891.8" stroke="#333" stroke-width="0.5"/>
<text x="31.2" y="894.32" font-size="5.6" text-anchor="end" class="d">91.0</text>
<line x1="34.1" y1="910" x2="35.5" y2="910" stroke="#333" stroke-width="0.5"/>
<text x="31.2" y="912.52" font-size="5.6" text-anchor="end" class="d">90.5</text>
<line x1="34.1" y1="928.2" x2="35.5" y2="928.2" stroke="#333" stroke-width="0.5"/>
<text x="31.2" y="930.72" font-size="5.6" text-anchor="end" class="d">90.0</text>
<line x1="34.1" y1="946.4" x2="35.5" y2="946.4" stroke="#333" stroke-width="0.5"/>
<text x="31.2" y="948.92" font-size="5.6" text-anchor="end" class="d">89.5</text>
<line x1="63.65" y1="958.6" x2="63.65" y2="957.2" stroke="#333" stroke-width="0.5"/>
<line x1="123.95" y1="958.6" x2="123.95" y2="957.2" stroke="#333" stroke-width="0.5"/>
<line x1="184.25" y1="958.6" x2="184.25" y2="957.2" stroke="#333" stroke-width="0.5"/>
<line x1="244.55" y1="958.6" x2="244.55" y2="957.2" stroke="#333" stroke-width="0.5"/>
<line x1="304.85" y1="958.6" x2="304.85" y2="957.2" stroke="#333" stroke-width="0.5"/>
<text x="63.65" y="970.48" font-size="5.6" text-anchor="middle" class="d" transform="rotate(-15 63.65 968.47)">BOPSO with χ²</text>
<text x="123.95" y="970.28" font-size="5.6" text-anchor="middle" class="d" transform="rotate(-15 123.95 968.26)">BOPSO with R</text>
<text x="184.25" y="970.84" font-size="5.6" text-anchor="middle" class="d" transform="rotate(-15 184.25 968.82)">BOPSO with GR</text>
<text x="244.55" y="970.55" font-size="5.6" text-anchor="middle" class="d" transform="rotate(-15 244.55 968.53)">BOPSO with IG</text>
<text x="304.85" y="972.72" font-size="5.6" text-anchor="middle" class="d" transform="rotate(-15 304.85 970.7)">BOPSO with Sym_Un</text>
<text x="14.3" y="881.12" font-size="5.699999999999999" text-anchor="middle" class="d" transform="rotate(-90 14.3 879.1)">Accuracy (%)</text>
<text x="184.4" y="795.6" font-size="7.43" text-anchor="middle" class="d" fill="#222">Box Plot of BOPSO Variants on Music Dataset (10 runs)</text>
<text x="53.8" y="1001.4" font-size="15.0" class="c" textLength="18.14" lengthAdjust="spacingAndGlyphs">(g)</text>
<text y="1001.4" font-size="15.0" class="c"><tspan x="81.4" textLength="87.99" lengthAdjust="spacingAndGlyphs">Convergence</tspan> <tspan x="173.18" textLength="53.1" lengthAdjust="spacingAndGlyphs">analysis</tspan> <tspan x="230.07" textLength="13.95" lengthAdjust="spacingAndGlyphs">of</tspan> <tspan x="247.81" textLength="47.67" lengthAdjust="spacingAndGlyphs">BOPSO</tspan> <tspan x="299.27" textLength="17.65" lengthAdjust="spacingAndGlyphs">on</tspan></text>
<text y="1024.9" font-size="15.0" class="c"><tspan x="150.93" textLength="40.62" lengthAdjust="spacingAndGlyphs">Music</tspan> <tspan x="195.34" textLength="52.05" lengthAdjust="spacingAndGlyphs">Dataset</tspan></text>
</g>
<g>
<line x1="409.19" y1="798" x2="409.19" y2="959.2" stroke="#d2d2d2" stroke-width="0.5" stroke-dasharray="1 0.5"/>
<line x1="468.77" y1="798" x2="468.77" y2="959.2" stroke="#d2d2d2" stroke-width="0.5" stroke-dasharray="1 0.5"/>
<line x1="528.35" y1="798" x2="528.35" y2="959.2" stroke="#d2d2d2" stroke-width="0.5" stroke-dasharray="1 0.5"/>
<line x1="587.93" y1="798" x2="587.93" y2="959.2" stroke="#d2d2d2" stroke-width="0.5" stroke-dasharray="1 0.5"/>
<line x1="647.51" y1="798" x2="647.51" y2="959.2" stroke="#d2d2d2" stroke-width="0.5" stroke-dasharray="1 0.5"/>
<path d="M409.19 923.3V920.1M409.19 936.6V952.2" stroke="#2e2e2e" stroke-width="0.75" fill="none"/>
<path d="M401.74 920.1H416.64M401.74 952.2H416.64" stroke="#444" stroke-width="0.75" fill="none"/>
<rect x="394.3" y="923.3" width="29.79" height="13.3" fill="#ffad00" stroke="#33290f" stroke-width="0.65"/>
<line x1="394.6" y1="933.4" x2="423.78" y2="933.4" stroke="#ff7a0a" stroke-width="0.7"/>
<circle cx="409.19" cy="892" r="1.4" fill="#fff" stroke="#2a2a2a" stroke-width="0.65"/>
<path d="M468.77 817.1V805.3M468.77 844.5V855.5" stroke="#2e2e2e" stroke-width="0.75" fill="none"/>
<path d="M461.32 805.3H476.22M461.32 855.5H476.22" stroke="#444" stroke-width="0.75" fill="none"/>
<rect x="453.88" y="817.1" width="29.79" height="27.4" fill="#ffad00" stroke="#33290f" stroke-width="0.65"/>
<line x1="454.18" y1="829.4" x2="483.36" y2="829.4" stroke="#ff7a0a" stroke-width="0.7"/>
<path d="M528.35 929.4V912.3M528.35 946.4V950.4" stroke="#2e2e2e" stroke-width="0.75" fill="none"/>
<path d="M520.9 912.3H535.8M520.9 950.4H535.8" stroke="#444" stroke-width="0.75" fill="none"/>
<rect x="513.45" y="929.4" width="29.79" height="17" fill="#ffad00" stroke="#33290f" stroke-width="0.65"/>
<line x1="513.75" y1="937.6" x2="542.94" y2="937.6" stroke="#ff7a0a" stroke-width="0.7"/>
<path d="M587.93 917.1V914.5M587.93 935.4V952" stroke="#2e2e2e" stroke-width="0.75" fill="none"/>
<path d="M580.48 914.5H595.38M580.48 952H595.38" stroke="#444" stroke-width="0.75" fill="none"/>
<rect x="573.03" y="917.1" width="29.79" height="18.3" fill="#ffad00" stroke="#33290f" stroke-width="0.65"/>
<line x1="573.33" y1="928.1" x2="602.52" y2="928.1" stroke="#ff7a0a" stroke-width="0.7"/>
<path d="M647.51 915.5V902.5M647.51 926.6V942.2" stroke="#2e2e2e" stroke-width="0.75" fill="none"/>
<path d="M640.06 902.5H654.96M640.06 942.2H654.96" stroke="#444" stroke-width="0.75" fill="none"/>
<rect x="632.62" y="915.5" width="29.79" height="11.1" fill="#ffad00" stroke="#33290f" stroke-width="0.65"/>
<line x1="632.91" y1="921.1" x2="662.11" y2="921.1" stroke="#ff7a0a" stroke-width="0.7"/>
<circle cx="647.51" cy="889.7" r="1.4" fill="#fff" stroke="#2a2a2a" stroke-width="0.65"/>
<path d="M379.4 798V959.2H677.4" stroke="#666" stroke-width="1.0" fill="none"/>
<line x1="380" y1="808.8" x2="381.4" y2="808.8" stroke="#333" stroke-width="0.5"/>
<text x="377.1" y="811.32" font-size="5.6" text-anchor="end" class="d">92.75</text>
<line x1="380" y1="830.04" x2="381.4" y2="830.04" stroke="#333" stroke-width="0.5"/>
<text x="377.1" y="832.56" font-size="5.6" text-anchor="end" class="d">92.50</text>
<line x1="380" y1="851.28" x2="381.4" y2="851.28" stroke="#333" stroke-width="0.5"/>
<text x="377.1" y="853.8" font-size="5.6" text-anchor="end" class="d">92.25</text>
<line x1="380" y1="872.52" x2="381.4" y2="872.52" stroke="#333" stroke-width="0.5"/>
<text x="377.1" y="875.04" font-size="5.6" text-anchor="end" class="d">92.00</text>
<line x1="380" y1="893.76" x2="381.4" y2="893.76" stroke="#333" stroke-width="0.5"/>
<text x="377.1" y="896.28" font-size="5.6" text-anchor="end" class="d">91.75</text>
<line x1="380" y1="915" x2="381.4" y2="915" stroke="#333" stroke-width="0.5"/>
<text x="377.1" y="917.52" font-size="5.6" text-anchor="end" class="d">91.50</text>
<line x1="380" y1="936.24" x2="381.4" y2="936.24" stroke="#333" stroke-width="0.5"/>
<text x="377.1" y="938.76" font-size="5.6" text-anchor="end" class="d">91.25</text>
<line x1="380" y1="957.48" x2="381.4" y2="957.48" stroke="#333" stroke-width="0.5"/>
<text x="377.1" y="960" font-size="5.6" text-anchor="end" class="d">91.00</text>
<line x1="409.19" y1="958.6" x2="409.19" y2="957.2" stroke="#333" stroke-width="0.5"/>
<line x1="468.77" y1="958.6" x2="468.77" y2="957.2" stroke="#333" stroke-width="0.5"/>
<line x1="528.35" y1="958.6" x2="528.35" y2="957.2" stroke="#333" stroke-width="0.5"/>
<line x1="587.93" y1="958.6" x2="587.93" y2="957.2" stroke="#333" stroke-width="0.5"/>
<line x1="647.51" y1="958.6" x2="647.51" y2="957.2" stroke="#333" stroke-width="0.5"/>
<text x="409.19" y="970.48" font-size="5.6" text-anchor="middle" class="d" transform="rotate(-15 409.19 968.47)">BOPSO with χ²</text>
<text x="468.77" y="970.28" font-size="5.6" text-anchor="middle" class="d" transform="rotate(-15 468.77 968.26)">BOPSO with R</text>
<text x="528.35" y="970.84" font-size="5.6" text-anchor="middle" class="d" transform="rotate(-15 528.35 968.82)">BOPSO with GR</text>
<text x="587.93" y="970.55" font-size="5.6" text-anchor="middle" class="d" transform="rotate(-15 587.93 968.53)">BOPSO with IG</text>
<text x="647.51" y="972.72" font-size="5.6" text-anchor="middle" class="d" transform="rotate(-15 647.51 970.7)">BOPSO with Sym_Un</text>
<text x="357.3" y="881.12" font-size="5.699999999999999" text-anchor="middle" class="d" transform="rotate(-90 357.3 879.1)">Accuracy (%)</text>
<text x="528.4" y="795.6" font-size="7.43" text-anchor="middle" class="d" fill="#222">Box Plot of BOPSO Variants on Radio Dataset (10 runs)</text>
<text x="395.2" y="1001.4" font-size="15.0" class="c" textLength="18.97" lengthAdjust="spacingAndGlyphs">(h)</text>
<text y="1001.4" font-size="15.0" class="c"><tspan x="422.8" textLength="87.99" lengthAdjust="spacingAndGlyphs">Convergence</tspan> <tspan x="514.58" textLength="53.1" lengthAdjust="spacingAndGlyphs">analysis</tspan> <tspan x="571.47" textLength="13.95" lengthAdjust="spacingAndGlyphs">of</tspan> <tspan x="589.21" textLength="47.67" lengthAdjust="spacingAndGlyphs">BOPSO</tspan> <tspan x="640.67" textLength="17.65" lengthAdjust="spacingAndGlyphs">on</tspan></text>
<text y="1024.9" font-size="15.0" class="c"><tspan x="493.33" textLength="38.62" lengthAdjust="spacingAndGlyphs">Radio</tspan> <tspan x="535.74" textLength="52.05" lengthAdjust="spacingAndGlyphs">Dataset</tspan></text>
</g>
<rect x="0" y="0" width="685" height="0.85" fill="#3a3a3a"/>
<rect x="0" y="0" width="1.15" height="1048" fill="#3a3a3a"/>
<rect x="683.8" y="0" width="1.2" height="1048" fill="#3a3a3a"/>
<rect x="341.8" y="0" width="1.4" height="1048" fill="#3a3a3a"/>
<rect x="0" y="198.75" width="685" height="1.3" fill="#3a3a3a"/>
<rect x="0" y="460.35" width="685" height="1.3" fill="#3a3a3a"/>
<rect x="0" y="722.35" width="685" height="1.3" fill="#3a3a3a"/>
<rect x="0" y="983.75" width="685" height="1.3" fill="#3a3a3a"/>
<rect x="0" y="261.65" width="685" height="1.3" fill="#3a3a3a"/>
<rect x="0" y="523.35" width="685" height="1.3" fill="#3a3a3a"/>
<rect x="0" y="784.85" width="685" height="1.3" fill="#3a3a3a"/>
<rect x="0" y="1046.8" width="685" height="1.2" fill="#3a3a3a"/>
</svg>
</body></html>
